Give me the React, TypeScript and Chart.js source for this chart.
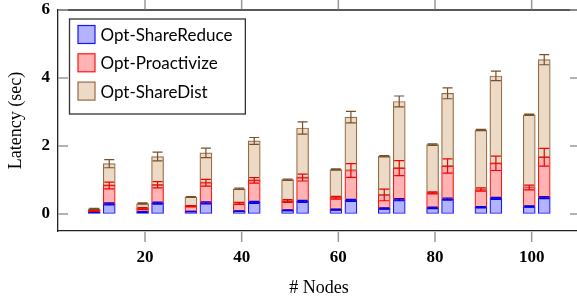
import React, { useEffect, useRef } from "react";
import { Chart, registerables } from "chart.js";

Chart.register(...registerables);

// ---------- data ----------
const nodes = [10, 20, 30, 40, 50, 60, 70, 80, 90, 100];
const xTicks = [20, 40, 60, 80, 100];
const yTicks = [0, 2, 4, 6];
const seriesLabels = ["Opt-ShareReduce", "Opt-Proactivize", "Opt-ShareDist"];

// left bar of each pair (segment heights, stacked)
const reduceLeft = [0.05, 0.06, 0.07, 0.08, 0.11, 0.13, 0.16, 0.18, 0.2, 0.22];
const proactLeft = [0.05, 0.1, 0.16, 0.23, 0.27, 0.35, 0.4, 0.44, 0.52, 0.56];
const distLeft = [0.05, 0.15, 0.27, 0.43, 0.63, 0.83, 1.14, 1.42, 1.75, 2.14];
// right bar of each pair
const reduceRight = [0.3, 0.32, 0.33, 0.34, 0.37, 0.4, 0.42, 0.44, 0.46, 0.48];
const proactRight = [0.54, 0.54, 0.59, 0.65, 0.7, 0.88, 0.93, 0.97, 1.03, 1.19];
const distRight = [0.64, 0.83, 0.88, 1.16, 1.46, 1.57, 1.96, 2.14, 2.57, 2.87];

// error bars (half-widths, sec)
const reduceLeftErr = [0.01, 0.01, 0.01, 0.01, 0.015, 0.015, 0.02, 0.02, 0.02, 0.02];
const proactLeftErr = [0.02, 0.03, 0.02, 0.03, 0.04, 0.04, 0.17, 0.03, 0.05, 0.07];
const distLeftErr = [0.015, 0.02, 0.015, 0.02, 0.02, 0.02, 0.02, 0.02, 0.02, 0.02];
const reduceRightErr = [0.03, 0.03, 0.03, 0.03, 0.03, 0.03, 0.03, 0.03, 0.03, 0.03];
const proactRightErr = [0.1, 0.09, 0.1, 0.08, 0.1, 0.2, 0.22, 0.21, 0.21, 0.26];
const distRightErr = [0.12, 0.13, 0.14, 0.1, 0.18, 0.17, 0.16, 0.16, 0.14, 0.15];

const leftOffset = -0.5;
const rightOffset = 2.6;

const fillColors = ["rgb(179,179,255)", "rgb(255,179,179)", "rgb(236,218,199)"];
const edgeColors = ["rgb(20,20,255)", "rgb(255,20,20)", "rgb(150,108,66)"];
const errColors = ["rgb(0,0,230)", "rgb(240,0,0)", "rgb(120,80,40)"];

const pairs = (left: number[], right: number[]) =>
  nodes
    .map((n, i) => ({ x: n + leftOffset, y: left[i] }))
    .concat(nodes.map((n, i) => ({ x: n + rightOffset, y: right[i] })));

// ---------- plugins ----------
const errorBarPlugin = {
  id: "errorBars",
  afterDatasetsDraw(chart: any) {
    const { ctx } = chart;
    const y = chart.scales.y;
    chart.data.datasets.forEach((ds: any, d: number) => {
      const meta = chart.getDatasetMeta(d);
      ctx.save();
      ctx.strokeStyle = ds.errorColor;
      ctx.lineWidth = 1.2;
      meta.data.forEach((bar: any, i: number) => {
        const e = ds.errors[i];
        const dy = Math.abs(y.getPixelForValue(e) - y.getPixelForValue(0));
        const cx = bar.x;
        const cy = bar.y;
        const hw = 5;
        ctx.beginPath();
        ctx.moveTo(cx, cy - dy);
        ctx.lineTo(cx, cy + dy);
        ctx.moveTo(cx - hw, cy - dy);
        ctx.lineTo(cx + hw, cy - dy);
        ctx.moveTo(cx - hw, cy + dy);
        ctx.lineTo(cx + hw, cy + dy);
        ctx.stroke();
      });
      ctx.restore();
    });
  },
};

const framePlugin = {
  id: "frame",
  afterDraw(chart: any) {
    const { ctx, chartArea } = chart;
    const { x, y } = chart.scales;
    ctx.save();
    // top border
    ctx.strokeStyle = "#222";
    ctx.lineWidth = 1.3;
    ctx.beginPath();
    ctx.moveTo(chartArea.left, chartArea.top);
    ctx.lineTo(chartArea.right, chartArea.top);
    ctx.stroke();
    // tick marks
    ctx.strokeStyle = "#999";
    ctx.lineWidth = 1.5;
    ctx.beginPath();
    yTicks.forEach((v) => {
      const py = y.getPixelForValue(v);
      ctx.moveTo(chartArea.left, py);
      ctx.lineTo(chartArea.left + 10, py);
      ctx.moveTo(chartArea.right - 10, py);
      ctx.lineTo(chartArea.right, py);
    });
    xTicks.forEach((v) => {
      const px = x.getPixelForValue(v);
      ctx.moveTo(px, chartArea.bottom + 0.7);
      ctx.lineTo(px, chartArea.bottom + 11);
      ctx.moveTo(px, chartArea.top - 0.7);
      ctx.lineTo(px, chartArea.top - 11);
    });
    ctx.stroke();
    ctx.restore();
  },
};

const boxLegendPlugin = {
  id: "boxLegend",
  afterDraw(chart: any) {
    const { ctx, chartArea } = chart;
    ctx.save();
    ctx.font = "17px Lato";
    const labels = chart.data.datasets.map((d: any) => d.label);
    const tw = Math.max(...labels.map((l: string) => ctx.measureText(l).width));
    const left = chartArea.left + 11.5;
    const top = chartArea.top + 9;
    const w = 31 + tw + 13;
    const h = 95;
    ctx.fillStyle = "#fff";
    ctx.fillRect(left, top, w, h);
    ctx.strokeStyle = "#333";
    ctx.lineWidth = 1.3;
    ctx.strokeRect(left, top, w, h);
    chart.data.datasets.forEach((ds: any, i: number) => {
      const cy = top + 15.5 + i * 28.3;
      ctx.fillStyle = ds.backgroundColor;
      ctx.fillRect(left + 8.5, cy - 9, 17, 18);
      ctx.strokeStyle = ds.borderColor;
      ctx.lineWidth = 1.2;
      ctx.strokeRect(left + 8.5, cy - 9, 17, 18);
      ctx.fillStyle = "#000";
      ctx.textBaseline = "middle";
      ctx.textAlign = "left";
      ctx.fillText(ds.label, left + 31, cy + 1);
    });
    ctx.restore();
  },
};

export default function App() {
  const ref = useRef<HTMLCanvasElement | null>(null);

  useEffect(() => {
    if (!ref.current) return;
    const series = [
      { data: pairs(reduceLeft, reduceRight), errors: reduceLeftErr.concat(reduceRightErr) },
      { data: pairs(proactLeft, proactRight), errors: proactLeftErr.concat(proactRightErr) },
      { data: pairs(distLeft, distRight), errors: distLeftErr.concat(distRightErr) },
    ];
    const chart = new Chart(ref.current, {
      type: "bar",
      data: {
        datasets: series.map((s, i) => ({
          label: seriesLabels[i],
          data: s.data,
          errors: s.errors,
          errorColor: errColors[i],
          backgroundColor: fillColors[i],
          borderColor: edgeColors[i],
          borderWidth: 1.2,
          borderSkipped: false,
          barThickness: 12,
          grouped: false,
        })) as any,
      },
      options: {
        responsive: false,
        maintainAspectRatio: false,
        animation: false,
        layout: { padding: { left: 0, right: 4, top: 10, bottom: 0 } },
        plugins: { legend: { display: false }, tooltip: { enabled: false } },
        scales: {
          x: {
            type: "linear",
            min: 2,
            max: 110,
            stacked: true,
            offset: false,
            afterBuildTicks: (s: any) => {
              s.ticks = xTicks.map((v) => ({ value: v }));
            },
            afterFit: (s: any) => {
              s.height = 70;
              s.paddingLeft = 0;
              s.paddingRight = 0;
            },
            grid: { drawOnChartArea: false, drawTicks: false },
            border: { display: true, color: "#222", width: 1.3 },
            ticks: {
              autoSkip: false,
              maxRotation: 0,
              padding: 16,
              color: "#000",
              font: { family: "Liberation Serif", size: 17, weight: "bold" },
            },
            title: {
              display: true,
              text: "# Nodes",
              color: "#000",
              font: { family: "Liberation Serif", size: 18 },
              padding: { top: 0, bottom: 1.5 },
            },
          },
          y: {
            min: -0.5,
            max: 6,
            stacked: true,
            afterBuildTicks: (s: any) => {
              s.ticks = yTicks.map((v) => ({ value: v }));
            },
            afterFit: (s: any) => {
              s.width = 58;
              s.paddingTop = 0;
              s.paddingBottom = 0;
            },
            grid: { drawOnChartArea: false, drawTicks: false },
            border: { display: true, color: "#222", width: 1.3 },
            ticks: {
              padding: 8,
              color: "#000",
              font: { family: "Liberation Serif", size: 17, weight: "bold" },
            },
            title: {
              display: true,
              text: "Latency (sec)",
              color: "#000",
              font: { family: "Liberation Serif", size: 18 },
              padding: { top: 5, bottom: 0 },
            },
          },
        },
      } as any,
      plugins: [errorBarPlugin, framePlugin, boxLegendPlugin],
    });
    return () => chart.destroy();
  }, []);

  return (
    <div
      style={{
        position: "absolute",
        left: 0,
        top: 0,
        width: 577,
        height: 301,
        overflow: "hidden",
        background: "#fff",
      }}
    >
      <canvas ref={ref} width={584} height={301} style={{ display: "block" }} />
    </div>
  );
}
